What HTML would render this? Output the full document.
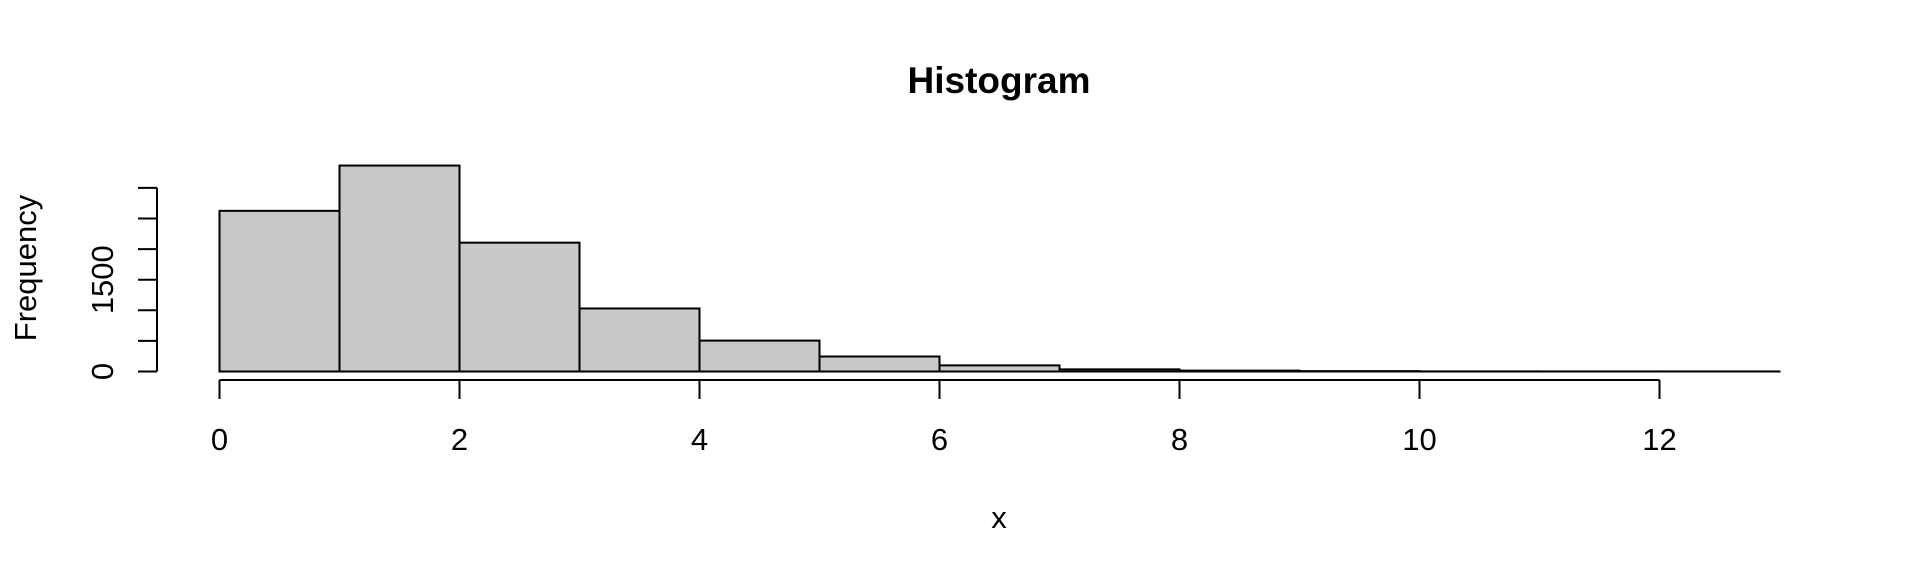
<!DOCTYPE html>
<html><head><meta charset="utf-8"><style>
html,body{margin:0;padding:0;background:#fff;}
svg{display:block;font-family:"Liberation Sans",Arial,sans-serif;}
</style></head><body>
<svg id="chart" width="1920" height="576" viewBox="0 0 1920 576">
<text x="999" y="93" text-anchor="middle" font-size="37" font-weight="bold">Histogram</text>
<text x="999" y="528" text-anchor="middle" font-size="31">x</text>
<text transform="translate(36,268) rotate(-90)" text-anchor="middle" font-size="31">Frequency</text>
<g id="bars"></g>
<g id="xaxis"></g>
<g id="yaxis"></g>
</svg>
<script>
const binEdges = [0,1,2,3,4,5,6,7,8,9,10,11,12,13];
const counts = [2625,3365,2105,1030,505,245,100,35,15,6,2,1,1];
const xTicks = [0,2,4,6,8,10,12];
const yTicks = [0,500,1000,1500,2000,2500,3000];
const yTickLabels = ["0","","","1500","","",""];

const NS="http://www.w3.org/2000/svg";
const X0=219.5, XS=120, Y0=371.5, YS=30.6/500;
const sx=v=>X0+v*XS, sy=v=>Y0-v*YS;
function mk(tag,attrs,parent){const e=document.createElementNS(NS,tag);for(const k in attrs)e.setAttribute(k,attrs[k]);parent.appendChild(e);return e;}
const bars=document.getElementById('bars'),xa=document.getElementById('xaxis'),ya=document.getElementById('yaxis');
counts.forEach((c,i)=>{
  const r=mk('rect',{x:sx(binEdges[i]),y:sy(c),width:sx(binEdges[i+1])-sx(binEdges[i]),height:Y0-sy(c),fill:'#c8c8c8',stroke:'#000','stroke-width':2},bars);
  
  
});
const xl=mk('line',{x1:sx(xTicks[0]),x2:sx(xTicks[xTicks.length-1]),y1:380,y2:380,stroke:'#000','stroke-width':2},xa);


xTicks.forEach(t=>{
  const l=mk('line',{x1:sx(t),x2:sx(t),y1:380,y2:399,stroke:'#000','stroke-width':2},xa);
  
  
  const tx=mk('text',{x:sx(t),y:450,'text-anchor':'middle','font-size':31},xa);
  tx.textContent=t;
  
  
});
const yl=mk('line',{x1:157,x2:157,y1:sy(yTicks[0]),y2:sy(yTicks[yTicks.length-1]),stroke:'#000','stroke-width':2},ya);


yTicks.forEach((t,i)=>{
  const l=mk('line',{x1:138,x2:157,y1:sy(t),y2:sy(t),stroke:'#000','stroke-width':2},ya);
  
  
  if(yTickLabels[i]){
    const tx=mk('text',{transform:'translate(113,'+sy(t)+') rotate(-90)','text-anchor':'middle','font-size':31},ya);
    tx.textContent=yTickLabels[i];
    
    
  }
});
</script>
</body></html>
